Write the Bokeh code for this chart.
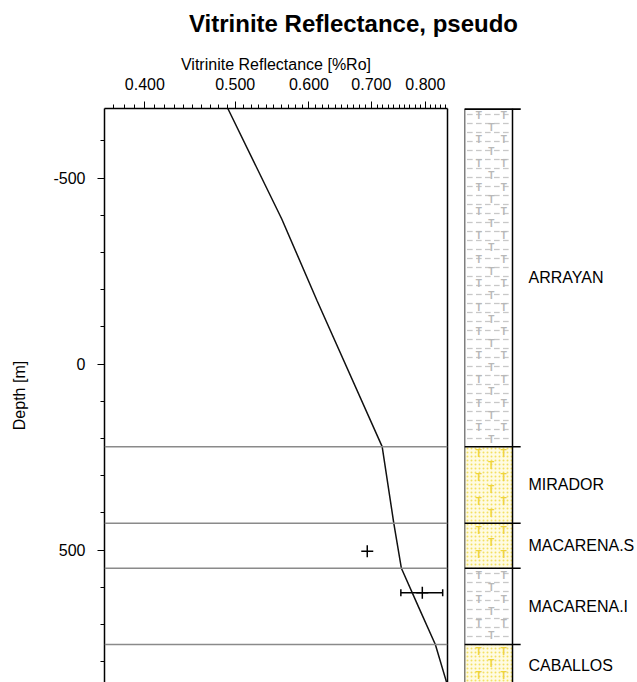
import numpy as np
from bokeh.plotting import figure
from bokeh.layouts import column, row
from bokeh.models import (Range1d, FixedTicker, PrintfTickFormatter, Span, Whisker,
                          TeeHead, ColumnDataSource, LinearAxis)
from bokeh.core.properties import value
from bokeh.embed import file_html
from bokeh.resources import INLINE

# ---------------- data ----------------
title_text = "Vitrinite Reflectance, pseudo"
x_label = "Vitrinite Reflectance [%Ro]"
y_label = "Depth [m]"

ro_ticks = [0.4, 0.5, 0.6, 0.7, 0.8]
depth_ticks = [-500, 0, 500]

# modelled vitrinite reflectance curve
curve_depth = [-687, -390, -171, 222, 428, 549, 654, 754, 855]
curve_ro = [0.491, 0.561, 0.612, 0.719, 0.740, 0.754, 0.787, 0.820, 0.843]

# measured samples
sample_depth = [503, 615]
sample_ro = [0.693, 0.794]
sample_ro_lo = [0.693, 0.753]
sample_ro_hi = [0.693, 0.835]

# formations
formations = ["ARRAYAN", "MIRADOR", "MACARENA.S", "MACARENA.I", "CABALLOS"]
form_top = [-687, 222, 428, 549, 754]
form_base = [222, 428, 549, 754, 867]
lithology = ["shale", "sand", "sand", "shale", "sand"]

# axis ranges
ro_min, ro_max = 0.362, 0.845
depth_top, depth_bottom = -687, 856

FONT = "Liberation Sans"

# ---------------- title ----------------
TW, TH = 637, 46
p_title = figure(width=TW, height=TH, x_range=Range1d(0, TW), y_range=Range1d(0, TH),
                 toolbar_location=None, output_backend="svg",
                 min_border_left=0, min_border_right=0, min_border_top=0, min_border_bottom=0)
p_title.axis.visible = False
p_title.grid.visible = False
p_title.outline_line_color = None
p_title.text(x=[353], y=[23.5], text=[title_text], text_font=value(FONT),
             text_font_size="24px", text_font_style="bold", text_color="black",
             text_align="center", text_baseline="alphabetic")

# ---------------- main plot ----------------
MW, MH = 449, 636
TOP = 62
p = figure(width=MW, height=MH, x_axis_type="log", x_axis_location="above",
           x_range=Range1d(ro_min, ro_max), y_range=Range1d(start=depth_bottom, end=depth_top),
           min_border_left=104, min_border_right=2, min_border_top=TOP, min_border_bottom=0,
           toolbar_location=None, output_backend="svg")
p.outline_line_color = None
p.grid.visible = False

xa = p.xaxis[0]
xa.ticker = FixedTicker(ticks=ro_ticks,
                        minor_ticks=[round(0.36 + 0.01 * i, 2) for i in range(49)])
xa.formatter = PrintfTickFormatter(format="%.3f")
xa.axis_label = x_label

ya = p.yaxis[0]
ya.ticker = FixedTicker(ticks=depth_ticks, minor_ticks=list(range(-600, 900, 100)))
ya.formatter = PrintfTickFormatter(format="%d")
ya.axis_label = y_label

for ax in (xa, ya):
    ax.axis_label_text_font = FONT
    ax.axis_label_text_font_size = "16px"
    ax.axis_label_text_font_style = "normal"
    ax.axis_label_text_color = "black"
    ax.major_label_text_font = FONT
    ax.major_label_text_font_size = "16px"
    ax.major_label_text_color = "black"
    ax.axis_line_color = "black"
    ax.axis_line_width = 1.5
    ax.major_tick_line_color = "black"
    ax.minor_tick_line_color = "black"
    ax.major_tick_in = 0
    ax.major_tick_out = 7
    ax.minor_tick_in = 0
    ax.minor_tick_out = 4

xa.major_label_standoff = 12
xa.axis_label_standoff = 2
ya.major_label_standoff = 12
ya.axis_label_standoff = 22

right_axis = LinearAxis(ticker=FixedTicker(ticks=[]), major_label_text_font_size="0px",
                        major_tick_in=0, major_tick_out=0, minor_tick_in=0, minor_tick_out=0,
                        major_label_standoff=0, axis_line_color="black", axis_line_width=1.5)
p.add_layout(right_axis, "right")

for d in form_top[1:]:
    p.add_layout(Span(location=d, dimension="width", line_color="#8a8a8a", line_width=1.5))

p.line(curve_ro, curve_depth, line_color="#111111", line_width=1.5)

p.scatter(sample_ro, sample_depth, marker="cross", size=12, line_color="black", line_width=1.5)

wsrc = ColumnDataSource(dict(
    base=[d for d, lo, hi in zip(sample_depth, sample_ro_lo, sample_ro_hi) if hi > lo],
    lower=[lo for lo, hi in zip(sample_ro_lo, sample_ro_hi) if hi > lo],
    upper=[hi for lo, hi in zip(sample_ro_lo, sample_ro_hi) if hi > lo]))
p.add_layout(Whisker(source=wsrc, base="base", lower="lower", upper="upper", dimension="width",
                     line_color="black", line_width=1.5,
                     lower_head=TeeHead(size=7, line_color="black", line_width=1.5),
                     upper_head=TeeHead(size=7, line_color="black", line_width=1.5)))

# ---------------- lithology column ----------------
LW = TW - MW
col_px = 48
frame_w = LW - 15
pl = figure(width=LW, height=MH, x_range=Range1d(0, frame_w / col_px), y_range=p.y_range,
            min_border_left=15, min_border_right=0, min_border_top=TOP, min_border_bottom=0,
            toolbar_location=None, output_backend="svg")
pl.axis.visible = False
pl.grid.visible = False
pl.outline_line_color = None

is_shale = [l == "shale" for l in lithology]
shale = ColumnDataSource(dict(top=[t for t, s in zip(form_top, is_shale) if s],
                              bottom=[b for b, s in zip(form_base, is_shale) if s]))
sand = ColumnDataSource(dict(top=[t for t, s in zip(form_top, is_shale) if not s],
                             bottom=[b for b, s in zip(form_base, is_shale) if not s]))
pl.quad(left=0, right=1, top="top", bottom="bottom", source=shale, fill_color="white",
        line_color=None, hatch_pattern="horizontal_dash", hatch_color="#c8c8c8",
        hatch_scale=9, hatch_weight=1.3)
pl.quad(left=0, right=1, top="top", bottom="bottom", source=sand, fill_color="#fffbe2",
        line_color=None, hatch_pattern="dot", hatch_color="#f3df62",
        hatch_scale=4, hatch_weight=1)

# lithology symbols ("T" marks) laid out on a pixel grid within each layer
px_per_m = (MH - TOP) / (depth_bottom - depth_top)
row_step = 12 / px_per_m
tx, ty, tc = [], [], []
for t, b, s in zip(form_top, form_base, is_shale):
    ys = np.arange(t + row_step * 0.6, min(b, depth_bottom) - row_step * 0.4, row_step)
    for k, yv in enumerate(ys):
        xs = [0.3, 0.82] if k % 2 == 0 else [0.56]
        for xv in xs:
            tx.append(xv)
            ty.append(yv)
            tc.append("#b8b8b8" if s else "#efd43c")
pl.text(x=tx, y=ty, text=["T"] * len(tx), text_color=tc, text_font=value(FONT),
        text_font_size="10px", text_font_style="bold", text_align="center",
        text_baseline="middle")

pl.segment(x0=[0, 1], x1=[0, 1], y0=[form_top[0]] * 2, y1=[form_base[-1]] * 2,
           line_color="black", line_width=1.5)
pl.segment(x0=[0] * len(form_top), x1=[1.17] * len(form_top), y0=form_top, y1=form_top,
           line_color="black", line_width=1.5)
pl.segment(x0=[0], x1=[1.17], y0=[form_top[0]], y1=[form_top[0]], line_color="black",
           line_width=3)

pl.text(x=[1.333] * len(formations), y=[(t + b) / 2 for t, b in zip(form_top, form_base)],
        text=formations, text_font=value(FONT), text_font_size="16px", text_color="black",
        text_align="left", text_baseline="middle")

layout = column(p_title, row(p, pl))
open("out.html", "w").write(file_html(layout, INLINE))
